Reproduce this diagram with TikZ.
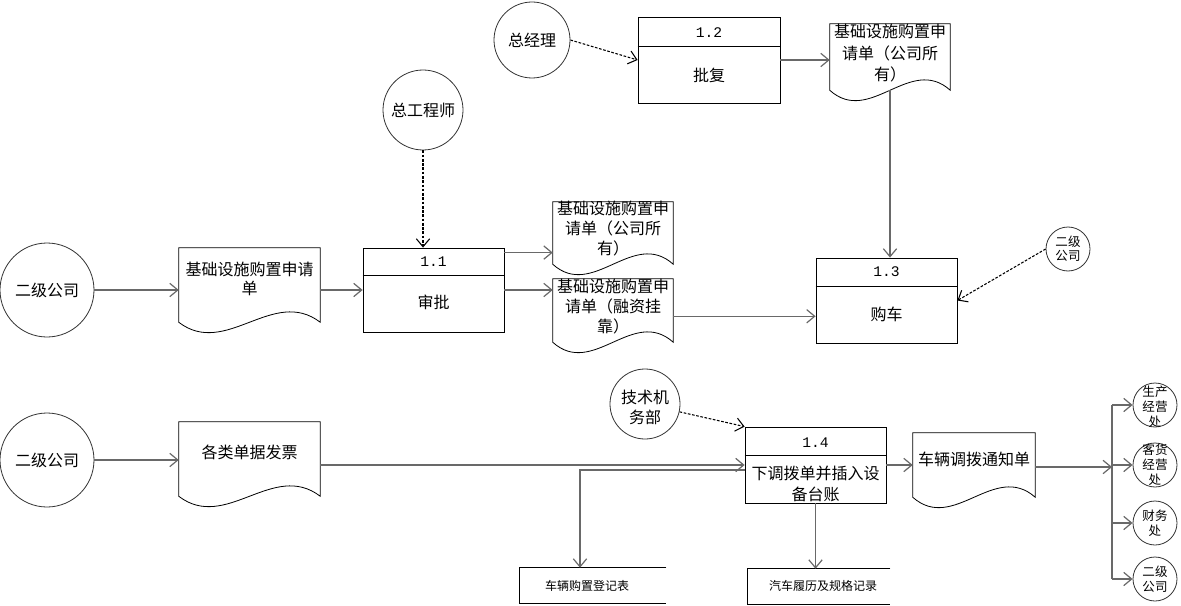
\documentclass[tikz,border=0pt]{standalone}
\usepackage{fontspec}
\setmainfont{Noto Sans CJK SC}
\newfontfamily\numfont{Liberation Mono}
\usetikzlibrary{arrows.meta,calc,fit}
\definecolor{linegray}{RGB}{105,105,105}
\newcommand\docoutline[1]{\draw[shp] (#1.north west) -- (#1.north east) -- (#1.south east)
  .. controls ($(#1.south east)!1/3!(#1.south west)+(0,-36)$) and ($(#1.south east)!2/3!(#1.south west)+(0,36)$) .. (#1.south west) -- cycle;}
\newcommand\storeoutline[1]{\draw[shp] (#1.north east) -- (#1.north west) -- (#1.south west) -- (#1.south east);}
\begin{document}
\begin{tikzpicture}[x=0.75pt,y=-0.75pt,
  shp/.style={draw=black, line width=0.6pt},
  box/.style={shp, rectangle, inner sep=0pt},
  docbox/.style={rectangle, inner sep=0pt},
  ent/.style={draw=black!80, line width=0.6pt, circle, inner sep=0pt},
  txt/.style={inner sep=0pt, align=center, font=\fontsize{12pt}{15pt}\selectfont},
  txtw/.style={inner sep=0pt, align=center, font=\fontsize{12pt}{16pt}\selectfont},
  num/.style={inner sep=0pt, font=\numfont\fontsize{11pt}{13pt}\selectfont},
  small/.style={inner sep=0pt, align=center, font=\fontsize{9.4pt}{11.25pt}\selectfont},
  store/.style={inner sep=0pt, font=\fontsize{9pt}{11pt}\selectfont},
  conn/.style={draw=linegray, line width=0.9pt, -{Straight Barb[length=6pt,width=10pt]}},
  busline/.style={draw=linegray, line width=0.9pt},
  dconn/.style={draw=black, line width=0.8pt, dash pattern=on 2pt off 1.2pt, -{Straight Barb[length=6pt,width=10pt]}}]
\useasboundingbox (0,0) rectangle (1181,606);

% ---------- top ----------
\node[ent, minimum size=57pt] (gm) at (532,40) {};
\node[txt] (gmt) at (gm) {总经理};
\node[box, fit={(638,17) (780,103)}] (p12) {};
\draw[shp] ($(p12.north west)+(0,30)$) -- ($(p12.north east)+(0,30)$);
\node[num] (p12n) at ($(p12.north)+(0,16)$) {1.2};
\node[txt] (p12t) at ($(p12.north)+(0,59)$) {批复};
\node[docbox, fit={(830,24) (950,90)}] (dA) {};
\docoutline{dA}
\node[txtw] (dAt) at ($(dA.north)+(0,29.5)$) {基础设施购置申\\请单（公司所\\有）};

% ---------- middle ----------
\node[ent, minimum size=60pt] (ce) at (423,110) {};
\node[txt] (cet) at (ce) {总工程师};
\node[ent, minimum size=70.5pt] (c1) at (47,290) {};
\node[txt] (c1t) at (c1) {二级公司};
\node[docbox, fit={(179,248) (320,322)}] (dL) {};
\docoutline{dL}
\node[txt, font=\fontsize{12pt}{14.25pt}\selectfont] (dLt) at ($(dL.north)+(0,31.5)$) {基础设施购置申请\\单};
\node[box, fit={(363,248) (504,332)}] (p11) {};
\draw[shp] ($(p11.north west)+(0,28)$) -- ($(p11.north east)+(0,28)$);
\node[num] (p11n) at ($(p11.north)+(0,14)$) {1.1};
\node[txt] (p11t) at ($(p11.north)+(0,55)$) {审批};
\node[docbox, fit={(553,202) (673,264)}] (dM1) {};
\docoutline{dM1}
\node[txt] (dM1t) at ($(dM1.north)+(0,27)$) {基础设施购置申\\请单（公司所\\有）};
\node[docbox, fit={(553,279) (673,342)}] (dM2) {};
\docoutline{dM2}
\node[txt] (dM2t) at ($(dM2.north)+(0,27.5)$) {基础设施购置申\\请单（融资挂\\靠）};
\node[box, fit={(816,258) (957,343)}] (p13) {};
\draw[shp] ($(p13.north west)+(0,29)$) -- ($(p13.north east)+(0,29)$);
\node[num] (p13n) at ($(p13.north)+(0,14)$) {1.3};
\node[txt] (p13t) at ($(p13.north)+(0,57)$) {购车};
\node[ent, minimum size=33pt] (cs1) at (1068,249) {};
\node[small, font=\fontsize{9.4pt}{10.5pt}\selectfont] (cs1t) at (cs1) {二级\\公司};

% ---------- bottom ----------
\node[ent, minimum size=70.5pt] (c2) at (47,460) {};
\node[txt] (c2t) at (c2) {二级公司};
\node[docbox, fit={(179,422) (320,496)}] (dB) {};
\docoutline{dB}
\node[txt] (dBt) at ($(dB.north)+(0,31)$) {各类单据发票};
\node[box, fit={(745,427) (886,503)}] (p14) {};
\draw[shp] ($(p14.north west)+(0,29)$) -- ($(p14.north east)+(0,29)$);
\node[num] (p14n) at ($(p14.north)+(0,16)$) {1.4};
\node[txt, font=\fontsize{12pt}{15.75pt}\selectfont] (p14t) at ($(p14.north)+(0,57.5)$) {下调拨单并插入设\\备台账};
\node[ent, minimum size=52.5pt] (tj) at (645,404) {};
\node[txt] (tjt) at ($(tj)+(0,3)$) {技术机\\务部};
\node[docbox, fit={(913,433) (1035,497)}] (dC) {};
\docoutline{dC}
\node[txt] (dCt) at ($(dC.north)+(0,27)$) {车辆调拨通知单};
\node[docbox, fit={(520,568) (666,603)}] (s1) {};
\storeoutline{s1}
\node[store] (s1t) at (587,586) {车辆购置登记表};
\node[docbox, fit={(748,569) (890,604)}] (s2) {};
\storeoutline{s2}
\node[store] (s2t) at (823,586) {汽车履历及规格记录};
\node[ent, minimum size=33pt] (k1) at (1155,405) {};
\node[small] (k1t) at ($(k1)+(0,2)$) {生产\\经营\\处};
\node[ent, minimum size=33pt] (k2) at (1155,465) {};
\node[small] (k2t) at (k2) {客货\\经营\\处};
\node[ent, minimum size=33pt] (k3) at (1155,523) {};
\node[small] (k3t) at (k3) {财务\\处};
\node[ent, minimum size=33pt] (k4) at (1155,579) {};
\node[small] (k4t) at (k4) {二级\\公司};
\coordinate (bus) at (1112,467);

% ---------- connectors ----------
\draw[dconn] (gm.east) -- (p12.west);
\draw[conn] (p12.east) -- (p12.east -| dA.west);
\draw[conn] (dA.south) -- (dA.south |- p13.north);
\draw[dconn] (ce.south) -- (ce.south |- p11.north);
\draw[conn] (c1.east) -- (c1.east -| dL.west);
\draw[conn] (dL.east |- c1) -- (p11.west |- c1);
\draw[conn] ($(p11.north east)+(0,5)$) coordinate (a1) -- (a1 -| dM1.west);
\draw[conn] (p11.east) -- (p11.east -| dM2.west);
\draw[conn] ($(dM2.south east)+(0,-26)$) coordinate (a2) -- (a2 -| p13.west);
\draw[dconn] (cs1.west) -- (p13.east);

\draw[conn] (c2.east) -- (c2.east -| dB.west);
\draw[conn] (p14.west -| dB.east) -- (p14.west);
\draw[conn] ($(p14.west)+(0,5)$) -| ($(s1.north)+(-13,0)$);
\draw[dconn] (tj) -- (p14.north west);
\draw[conn] (p14.east) -- (p14.east -| dC.west);
\draw[conn] (p14.south) -- (p14.south |- s2.north);
\draw[conn] (dC.east |- bus) -- (bus);
\draw[busline] (bus |- k1) -- (bus |- k4);
\foreach \k in {k1,k2,k3,k4} \draw[conn] (bus |- \k) -- (\k.west);
\end{tikzpicture}
\end{document}
